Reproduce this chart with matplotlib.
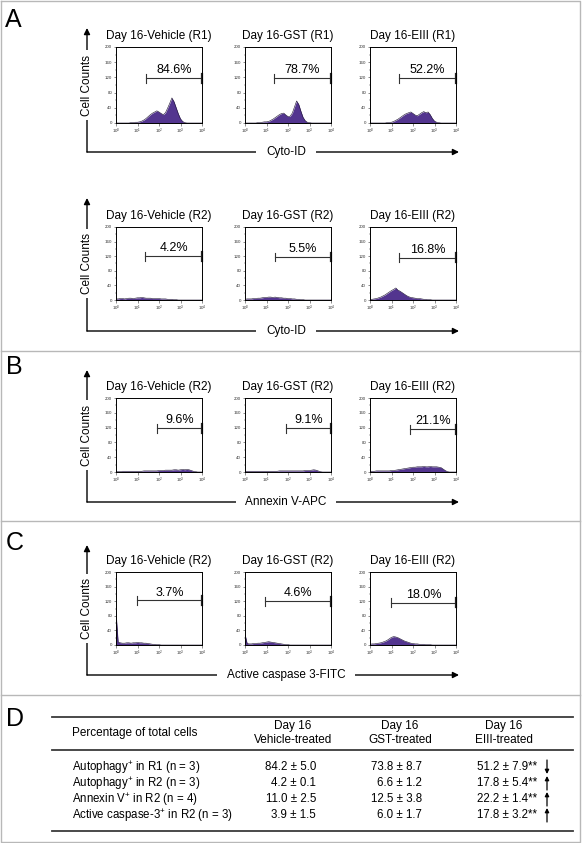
import numpy as np
import matplotlib
matplotlib.use('Agg')
import matplotlib.pyplot as plt
from matplotlib.ticker import FixedLocator, NullFormatter

plt.rcParams['font.family'] = ['Liberation Sans', 'DejaVu Sans']
plt.rcParams['mathtext.fontset'] = 'custom'
plt.rcParams['mathtext.rm'] = 'Liberation Sans'
plt.rcParams['mathtext.it'] = 'Liberation Sans:italic'
plt.rcParams['mathtext.bf'] = 'Liberation Sans:bold'

# ---------------- data ----------------
LOG_X = [0.0, 0.1, 0.2, 0.3, 0.4, 0.5, 0.6, 0.7, 0.8, 0.9, 1.0,
         1.1, 1.2, 1.3, 1.4, 1.5, 1.6, 1.7, 1.8, 1.9, 2.0,
         2.1, 2.2, 2.3, 2.4, 2.5, 2.6, 2.7, 2.8, 2.9, 3.0,
         3.1, 3.2, 3.3, 3.4, 3.5, 3.6, 3.7, 3.8, 3.9, 4.0]

CONDITIONS = ['Vehicle', 'GST', 'EIII']

# Panel A, region R1, Cyto-ID
A1_VEH = [0, 0, 0, 0, 0, 0, 0, 1, 1, 2, 2, 3, 5, 8, 12, 17, 22, 26, 29, 32, 29,
          25, 22, 27, 39, 52, 66, 56, 40, 24, 11, 4, 1, 0, 0, 0, 0, 0, 0, 0, 0]
A1_GST = [0, 0, 0, 0, 0, 0, 1, 1, 2, 3, 3, 4, 7, 10, 14, 18, 22, 25, 26, 21, 17,
          18, 26, 42, 58, 49, 31, 15, 6, 2, 1, 0, 0, 0, 0, 0, 0, 0, 0, 0, 0]
A1_EIII = [0, 0, 0, 0, 0, 0, 0, 0, 1, 1, 2, 4, 7, 10, 14, 18, 22, 25, 27, 29, 25,
           21, 19, 23, 27, 30, 27, 29, 22, 12, 5, 2, 1, 0, 0, 0, 0, 0, 0, 0, 0]
# Panel A, region R2, Cyto-ID
A2_VEH = [3, 3, 4, 4, 3, 4, 5, 5, 4, 5, 6, 6, 7, 6, 5, 5, 5, 4, 4, 4, 4,
          3, 3, 3, 2, 2, 2, 1, 1, 0, 0, 0, 0, 0, 0, 0, 0, 0, 0, 0, 0]
A2_GST = [2, 3, 3, 3, 4, 4, 5, 5, 6, 7, 7, 8, 8, 7, 8, 7, 6, 6, 5, 5, 4,
          4, 3, 3, 2, 2, 1, 1, 0, 0, 0, 0, 0, 0, 0, 0, 0, 0, 0, 0, 0]
A2_EIII = [2, 2, 3, 4, 6, 8, 11, 14, 18, 22, 26, 29, 33, 27, 24, 20, 16, 12, 9, 7, 6,
           5, 4, 4, 3, 2, 2, 1, 1, 0, 0, 0, 0, 0, 0, 0, 0, 0, 0, 0, 0]
# Panel B, Annexin V-APC
B_VEH = [1, 1, 1, 2, 2, 2, 2, 2, 2, 2, 2, 2, 2, 3, 3, 3, 3, 3, 3, 3, 4,
         4, 4, 5, 5, 5, 5, 6, 6, 5, 6, 7, 6, 7, 6, 4, 2, 1, 0, 0, 0]
B_GST = [2, 2, 2, 2, 2, 2, 2, 2, 2, 2, 2, 2, 2, 2, 2, 2, 3, 3, 3, 3, 3,
         3, 3, 3, 3, 3, 3, 3, 4, 4, 4, 5, 6, 5, 3, 1, 0, 0, 0, 0, 0]
B_EIII = [2, 2, 2, 3, 3, 3, 3, 3, 3, 3, 4, 4, 5, 6, 7, 8, 9, 10, 11, 12, 13,
          13, 14, 14, 14, 15, 14, 14, 15, 14, 14, 14, 13, 12, 8, 4, 1, 0, 0, 0, 0]
# Panel C, Active caspase 3-FITC
C_VEH = [90, 8, 6, 5, 5, 6, 6, 5, 6, 6, 7, 6, 6, 5, 5, 4, 3, 2, 2, 1, 1,
         0, 0, 0, 0, 0, 0, 0, 0, 0, 0, 0, 0, 0, 0, 0, 0, 0, 0, 0, 0]
C_GST = [30, 4, 3, 3, 4, 4, 5, 5, 6, 7, 8, 9, 8, 7, 6, 5, 4, 3, 2, 1, 1,
         0, 0, 0, 0, 0, 0, 0, 0, 0, 0, 0, 0, 0, 0, 0, 0, 0, 0, 0, 0]
C_EIII = [2, 3, 3, 4, 5, 6, 8, 10, 13, 17, 21, 23, 22, 20, 17, 14, 11, 9, 7, 5, 4,
          3, 3, 2, 2, 2, 1, 1, 1, 0, 0, 0, 0, 0, 0, 0, 0, 0, 0, 0, 0]

ROW_HISTS = [[A1_VEH, A1_GST, A1_EIII], [A2_VEH, A2_GST, A2_EIII],
             [B_VEH, B_GST, B_EIII], [C_VEH, C_GST, C_EIII]]
ROW_REGION = ['R1', 'R2', 'R2', 'R2']
ROW_XLABEL = ['Cyto-ID', 'Cyto-ID', 'Annexin V-APC', 'Active caspase 3-FITC']

# gate start (log10 fluorescence), gate level (counts), gate percentage
GATE_START = [[1.38, 1.35, 1.35], [1.37, 1.40, 1.35], [1.90, 1.93, 1.86], [0.98, 0.93, 0.98]]
GATE_LEVEL = [[118, 118, 118], [120, 118, 116], [118, 118, 116], [122, 120, 116]]
GATE_PCT = [['84.6%', '78.7%', '52.2%'], ['4.2%', '5.5%', '16.8%'],
            ['9.6%', '9.1%', '21.1%'], ['3.7%', '4.6%', '18.0%']]

Y_TICKS = [0, 40, 80, 120, 160, 200]
X_TICKS = [1, 10, 100, 1000, 10000]
X_TICKLABELS = [r'$10^0$', r'$10^1$', r'$10^2$', r'$10^3$', r'$10^4$']

# Table (panel D)
TABLE_HEAD = ['Percentage of total cells', 'Day 16\nVehicle-treated', 'Day 16\nGST-treated', 'Day 16\nEIII-treated']
TABLE_ROWS = [r'Autophagy$^{+}$ in R1 (n = 3)', r'Autophagy$^{+}$ in R2 (n = 3)',
              r'Annexin V$^{+}$ in R2 (n = 4)', r'Active caspase-3$^{+}$ in R2 (n = 3)']
VEH_VALS = ['84.2 ± 5.0', '4.2 ± 0.1', '11.0 ± 2.5', '3.9 ± 1.5']
GST_VALS = ['73.8 ± 8.7', '6.6 ± 1.2', '12.5 ± 3.8', '6.0 ± 1.7']
EIII_VALS = ['51.2 ± 7.9**', '17.8 ± 5.4**', '22.2 ± 1.4**', '17.8 ± 3.2**']
EIII_TREND = ['down', 'up', 'up', 'up']

# ---------------- layout ----------------
W, H = 582, 843
PURPLE = '#53358f'
fig = plt.figure(figsize=(W / 100, H / 100), dpi=100)
ov = fig.add_axes([0, 0, 1, 1])
ov.set_xlim(0, W)
ov.set_ylim(H, 0)
ov.axis('off')

# frame and separators
GRAY = '#b8b8b8'
ov.plot([1, 580, 580, 1, 1], [1, 1, 842, 842, 1], color=GRAY, lw=1.0)
for yy in [351, 521, 695]:
    ov.plot([1, 580], [yy, yy], color=GRAY, lw=1.0)

# panel letters
for lab, (lx, ly) in zip('ABCD', [(5, 27), (6, 374), (6, 550), (6, 726)]):
    ov.text(lx, ly, lab, fontsize=18, ha='left', va='baseline')

COL_LEFT = [116, 245, 370]
AX_W = 86
ROW_TOP = [47, 227, 398, 572]
ROW_BOT = [123, 300, 472, 645]
ARROW_TIP = [28, 198, 370, 545]
HLINE_Y = [152, 331, 502, 675]

x_vals = [10 ** v for v in LOG_X]

for r in range(4):
    top, bot = ROW_TOP[r], ROW_BOT[r]
    for c in range(3):
        left = COL_LEFT[c]
        ax = fig.add_axes([left / W, 1 - bot / H, AX_W / W, (bot - top) / H])
        counts = ROW_HISTS[r][c]
        ax.fill_between(x_vals, counts, 0, color=PURPLE, lw=0)
        ax.plot(x_vals, counts, color='#1a1030', lw=0.4)
        ax.set_xscale('log')
        ax.set_xlim(1, 1e4)
        ax.set_ylim(0, 200)
        ax.set_yticks(Y_TICKS)
        ax.set_yticklabels([str(t) for t in Y_TICKS])
        ax.yaxis.set_minor_locator(FixedLocator([20, 60, 100, 140, 180]))
        ax.set_xticks(X_TICKS)
        ax.set_xticklabels(X_TICKLABELS)
        ax.xaxis.set_minor_locator(matplotlib.ticker.LogLocator(base=10, subs=np.arange(2, 10)))
        ax.xaxis.set_minor_formatter(NullFormatter())
        ax.tick_params(which='major', labelsize=3.2, length=1.8, width=0.4, pad=1, colors='#333333')
        ax.tick_params(which='minor', length=1.0, width=0.3, colors='#333333')
        for sp in ax.spines.values():
            sp.set_linewidth(0.7)
        # gate
        gs = 10 ** GATE_START[r][c]
        gy = GATE_LEVEL[r][c]
        ax.plot([gs, 1e4], [gy, gy], color='#333333', lw=0.8)
        ax.plot([gs, gs], [gy - 12, gy + 12], color='#333333', lw=0.8)
        ax.plot([1e4, 1e4], [gy - 12, gy + 12], color='#222222', lw=1.6, clip_on=False)
        mid = 10 ** ((GATE_START[r][c] + 4) / 2)
        ax.text(mid, gy + 5, GATE_PCT[r][c], ha='center', va='bottom', fontsize=9)
        # title
        ov.text(left + AX_W / 2, top - 11, f'Day 16-{CONDITIONS[c]} ({ROW_REGION[r]})',
                ha='center', va='center', fontsize=8.5)
    # axis arrows
    hy = HLINE_Y[r]
    arrow_kw = dict(arrowstyle='-|>', color='black', lw=1.0, mutation_scale=9, shrinkA=0, shrinkB=0)
    ov.annotate('', xy=(87, ARROW_TIP[r]), xytext=(87, hy), arrowprops=arrow_kw)
    ov.annotate('', xy=(459, hy), xytext=(87, hy), arrowprops=arrow_kw)
    ov.text(87, (top + bot) / 2, 'Cell Counts', rotation=90, ha='center', va='center', fontsize=8.5,
            bbox=dict(fc='white', ec='none', pad=3))
    ov.text(286, hy, ROW_XLABEL[r], ha='center', va='center', fontsize=8.5,
            bbox=dict(fc='white', ec='none', pad=7))

# ---------------- table (D) ----------------
TL, TR = 52, 573
LINE_C = '#3a3a3a'
for yy in [717, 750, 831]:
    ov.plot([TL, TR], [yy, yy], color=LINE_C, lw=1.3)
ov.text(72, 733, TABLE_HEAD[0], ha='left', va='center', fontsize=8.5)
for hx, txt in zip([293, 400, 504], TABLE_HEAD[1:]):
    ov.text(hx, 733, txt, ha='center', va='center', fontsize=8.5, linespacing=1.25)

ROW_Y = [767, 783, 799, 815]
for i, yy in enumerate(ROW_Y):
    ov.text(72, yy + 3.5, TABLE_ROWS[i], ha='left', va='baseline', fontsize=8.3)
    ov.text(316, yy + 3.5, VEH_VALS[i], ha='right', va='baseline', fontsize=8.3)
    ov.text(422, yy + 3.5, GST_VALS[i], ha='right', va='baseline', fontsize=8.3)
    ov.text(537, yy + 3.5, EIII_VALS[i], ha='right', va='baseline', fontsize=8.3)
    if EIII_TREND[i] == 'up':
        ov.annotate('', xy=(547, yy - 7), xytext=(547, yy + 7),
                    arrowprops=dict(arrowstyle='-|>', color='black', lw=0.9, mutation_scale=6, shrinkA=0, shrinkB=0))
    else:
        ov.annotate('', xy=(547, yy + 7), xytext=(547, yy - 7),
                    arrowprops=dict(arrowstyle='-|>', color='black', lw=0.9, mutation_scale=6, shrinkA=0, shrinkB=0))

fig.savefig('out.png', dpi=100)
